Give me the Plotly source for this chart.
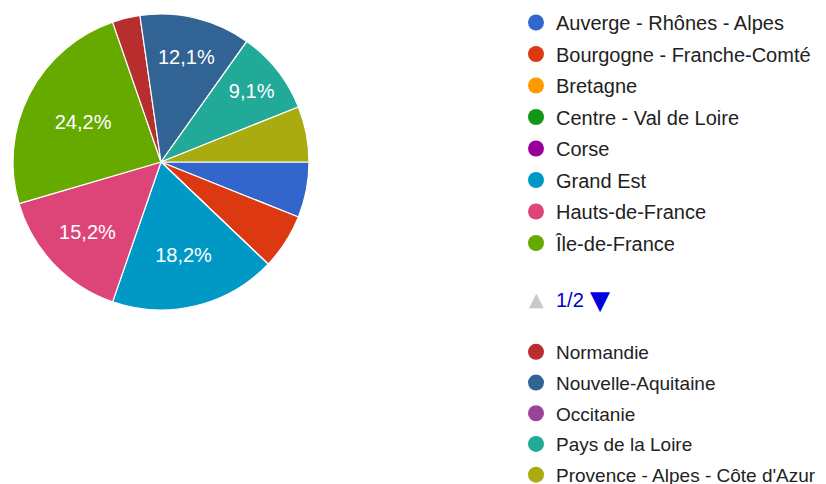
import plotly.graph_objects as go

regions = [
    "Auverge - Rhônes - Alpes", "Bourgogne - Franche-Comté", "Bretagne",
    "Centre - Val de Loire", "Corse", "Grand Est", "Hauts-de-France",
    "Île-de-France", "Normandie", "Nouvelle-Aquitaine", "Occitanie",
    "Pays de la Loire", "Provence - Alpes - Côte d'Azur",
]
responses = [2, 2, 0, 0, 0, 6, 5, 8, 1, 4, 0, 3, 2]
colors = [
    "#3366cc", "#dc3912", "#ff9900", "#109618", "#990099", "#0099c6",
    "#dd4477", "#66aa00", "#b82e2e", "#316395", "#994499", "#22aa99",
    "#aaaa11",
]

total = sum(responses)
# google hides the small slice labels, and uses a decimal comma
labels = []
for v in responses:
    pct = 100 * v / total
    labels.append(f"{pct:.1f}%".replace(".", ",") if pct >= 8 else "")

W, H = 826, 484
FONT = "Liberation Sans, Arial"


def px(x):
    return x / W


def py(y):
    return 1 - y / H


fig = go.Figure()
fig.add_trace(go.Pie(
    labels=regions, values=responses, text=labels, texttemplate="%{text}",
    textposition="inside", insidetextorientation="horizontal",
    sort=False, direction="clockwise", rotation=90,
    marker=dict(colors=colors, line=dict(color="white", width=1.2)),
    textfont=dict(color="white", size=20, family=FONT),
    domain=dict(x=[px(13), px(309)], y=[py(310), py(14)]),
    showlegend=False, hoverinfo="label+percent",
))

# legend entries as round markers, split over two legends like the paged one
for i, (name, c) in enumerate(zip(regions, colors)):
    fig.add_trace(go.Scatter(
        x=[None], y=[None], mode="markers", name=name,
        marker=dict(size=18, color=c),
        legend="legend" if i < 8 else "legend2", legendgroup=name,
    ))

legend_style = dict(
    xanchor="left", yanchor="top",
    bgcolor="rgba(0,0,0,0)", itemclick=False,
)
fig.update_layout(
    width=W, height=H,
    margin=dict(l=0, r=0, t=0, b=0, autoexpand=False),
    paper_bgcolor="white", plot_bgcolor="white",
    xaxis=dict(visible=False), yaxis=dict(visible=False),
    legend=dict(x=px(516), y=py(3), tracegroupgap=2.5,
                font=dict(size=20, color="#222222", family=FONT),
                **legend_style),
    legend2=dict(x=px(516), y=py(333), tracegroupgap=3,
                 font=dict(size=19, color="#222222", family=FONT),
                 **legend_style),
    annotations=[
        dict(x=px(536), y=py(299), xref="paper", yref="paper", text="▲",
             xanchor="center", yanchor="middle", showarrow=False,
             font=dict(size=19, color="#c8c8c8", family="DejaVu Sans")),
        dict(x=px(570), y=py(300), xref="paper", yref="paper", text="1/2",
             xanchor="center", yanchor="middle", showarrow=False,
             font=dict(size=20, color="#0000cc", family=FONT)),
        dict(x=px(600), y=py(300), xref="paper", yref="paper", text="▼",
             xanchor="center", yanchor="middle", showarrow=False,
             font=dict(size=26, color="#0000dd", family="DejaVu Sans")),
    ],
)

# drop the page's default body margin so the figure fills the window
fig.write_html("out.html", config={"displayModeBar": False},
               post_script="document.body.style.margin = '0';")
